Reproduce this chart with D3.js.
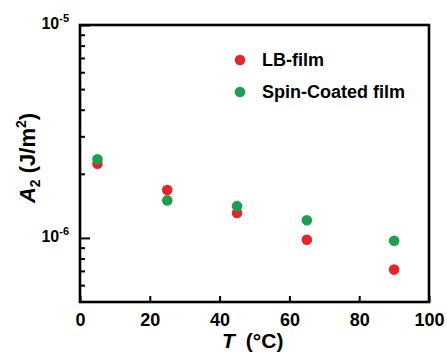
<!DOCTYPE html>
<html><head><meta charset="utf-8">
<script src="https://cdn.jsdelivr.net/npm/d3@7"></script>
<style>body{margin:0;background:#fff;} text{font-family:"Liberation Sans",Arial,sans-serif;font-weight:bold;}</style>
</head><body>
<svg id="c" width="447" height="352"></svg>
<script>
const temps = [5, 25, 45, 65, 90];
const lbFilm = [2.23e-6, 1.68e-6, 1.31e-6, 9.8e-7, 7.1e-7];
const spinCoated = [2.34e-6, 1.50e-6, 1.41e-6, 1.21e-6, 9.7e-7];
const xTicks = [0, 20, 40, 60, 80, 100];
const yMajor = [1e-6, 1e-5];
const yMinor = [6e-7,7e-7,8e-7,9e-7,2e-6,3e-6,4e-6,5e-6,6e-6,7e-6,8e-6,9e-6];
const seriesNames = ["LB-film", "Spin-Coated film"];
const colors = ["#e6242c", "#1e9f4f"];

const svg = d3.select("#c");
const L = 80, R = 429, T = 25, B = 302;
const x = d3.scaleLinear().domain([0, 100]).range([L, R]);
const y = d3.scaleLog().domain([5e-7, 1e-5]).range([B, T]);

// x axis
const gx = svg.append("g").attr("transform", `translate(0,${B})`)
  .call(d3.axisBottom(x).tickValues(xTicks).tickSizeInner(-6).tickSizeOuter(0).tickPadding(11).tickFormat(d3.format("d")));
gx.select(".domain").remove();
gx.selectAll("line").attr("stroke", "#000").attr("stroke-width", 2);
gx.selectAll("text").attr("font-size", 18).attr("fill", "#000").style("font-weight","bold");

// y minor
const gym = svg.append("g").attr("transform", `translate(${L},0)`)
  .call(d3.axisLeft(y).tickValues(yMinor).tickSizeInner(-5).tickSizeOuter(0).tickFormat(""));
gym.select(".domain").remove();
gym.selectAll("line").attr("stroke", "#000").attr("stroke-width", 2);

// y major
const gy = svg.append("g").attr("transform", `translate(${L},0)`)
  .call(d3.axisLeft(y).tickValues(yMajor).tickSizeInner(-10).tickSizeOuter(0).tickPadding(11));
gy.select(".domain").remove();
gy.selectAll("line").attr("stroke", "#000").attr("stroke-width", 2);
gy.selectAll("text").each(function(d) {
  const t = d3.select(this).text("").attr("fill", "#000").attr("dy", "0.32em").attr("x", -11).attr("text-anchor", "end");
  t.append("tspan").attr("font-size", 16).text("10");
  t.append("tspan").attr("font-size", 11).attr("dy", "-7").text("-" + Math.round(-Math.log10(d)));
});

// frame
svg.append("rect").attr("x", L).attr("y", T).attr("width", R - L).attr("height", B - T)
  .attr("fill", "none").attr("stroke", "#000").attr("stroke-width", 2.6);

// points
const series = [lbFilm, spinCoated];
series.forEach((vals, i) => {
  svg.append("g").selectAll("circle").data(vals).join("circle")
    .attr("cx", (d, j) => x(temps[j])).attr("cy", d => y(d)).attr("r", 5.3)
    .attr("fill", colors[i]);
});

// legend
const leg = svg.append("g");
seriesNames.forEach((n, i) => {
  const yy = 60 + i * 32;
  leg.append("circle").attr("cx", 240).attr("cy", yy).attr("r", 5.3).attr("fill", colors[i]);
  leg.append("text").attr("x", 262).attr("y", yy).attr("dy", "0.35em").attr("font-size", 18).text(n);
});

// x title
const xt = svg.append("text").attr("x", 222).attr("y", 348).attr("font-size", 21);
xt.append("tspan").attr("font-style", "italic").text("T");
xt.append("tspan").attr("dx", 11).text("(°C)");

// y title
const yt = svg.append("text").attr("transform", "translate(35,158) rotate(-90)")
  .attr("text-anchor", "middle").attr("font-size", 22);
yt.append("tspan").attr("font-style", "italic").text("A");
yt.append("tspan").attr("font-size", 14).attr("dy", 5).text("2");
yt.append("tspan").attr("dy", -5).text(" (J/m");
yt.append("tspan").attr("font-size", 14).attr("dy", -9).text("2");
yt.append("tspan").attr("dy", 9).text(")");
</script>
</body></html>
